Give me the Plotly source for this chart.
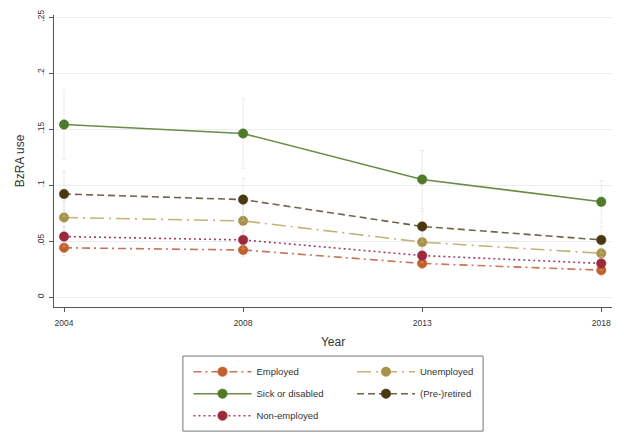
import plotly.graph_objects as go

years = ["2004", "2008", "2013", "2018"]

employed = [0.044, 0.042, 0.030, 0.024]
unemployed = [0.071, 0.068, 0.049, 0.039]
sick = [0.154, 0.146, 0.105, 0.085]
retired = [0.092, 0.087, 0.063, 0.051]
nonemployed = [0.054, 0.051, 0.037, 0.030]

# half-widths of the 95% CIs
employed_ci = [0.007, 0.006, 0.005, 0.005]
unemployed_ci = [0.015, 0.014, 0.011, 0.010]
sick_ci = [0.031, 0.031, 0.026, 0.019]
retired_ci = [0.020, 0.019, 0.014, 0.012]
nonemployed_ci = [0.009, 0.008, 0.006, 0.006]

y_ticks = [0, 0.05, 0.1, 0.15, 0.2, 0.25]
y_labels = ["0", ".05", ".1", ".15", ".2", ".25"]

series = [
    ("Employed", employed, employed_ci, "#c8735a", "#c0602c", "8px,4px,2px,4px", "legend"),
    ("Unemployed", unemployed, unemployed_ci, "#c4b27a", "#a8924a", "14px,5px,2px,5px", "legend2"),
    ("Sick or disabled", sick, sick_ci, "#6b8c47", "#4f7a2a", "solid", "legend"),
    ("(Pre-)retired", retired, retired_ci, "#6e6548", "#4a3810", "7px,4px", "legend2"),
    ("Non-employed", nonemployed, nonemployed_ci, "#a8405a", "#9c2a3c", "2px,3px", "legend"),
]

fig = go.Figure()
for i, (name, vals, ci, lcol, mcol, dash, leg) in enumerate(series):
    fig.add_trace(go.Scatter(
        x=years, y=vals, name=name, mode="lines+markers",
        line=dict(color=lcol, width=1.6, dash=dash),
        marker=dict(color=mcol, size=9.5, line=dict(color=mcol, width=0.5)),
        error_y=dict(type="data", array=ci, color="rgba(205,205,200,0.5)",
                     thickness=0.8, width=2),
        legend=leg, legendgroup=name, legendrank=i,
    ))

# page body adds an 8px margin, so the figure is 8px smaller each way
fig.update_layout(
    width=616, height=434,
    margin=dict(l=46, r=12, t=7, b=135),
    paper_bgcolor="white", plot_bgcolor="white",
    font=dict(family="Liberation Sans, Arial", size=10, color="#333333"),
    showlegend=True,
    legend=dict(x=0.241, y=-0.172, xanchor="left", yanchor="top",
                bgcolor="rgba(0,0,0,0)", itemwidth=58, tracegroupgap=3,
                font=dict(size=9.5, color="#333333")),
    legend2=dict(x=0.534, y=-0.172, xanchor="left", yanchor="top",
                 bgcolor="rgba(0,0,0,0)", itemwidth=58, tracegroupgap=3,
                 font=dict(size=9.5, color="#333333")),
    shapes=[dict(type="rect", xref="paper", yref="paper",
                 x0=0.231, x1=0.769, y0=-0.425, y1=-0.168,
                 line=dict(color="#777777", width=1), fillcolor="rgba(0,0,0,0)")],
)

fig.update_xaxes(
    type="category", range=[-0.056, 3.06], automargin=False,
    showline=True, linecolor="#555555", linewidth=1.2,
    ticks="outside", ticklen=4, tickcolor="#555555", ticklabelstandoff=4,
    showgrid=False, tickfont=dict(size=8.5),
    title=dict(text="Year", font=dict(size=12), standoff=10),
)
fig.update_yaxes(
    range=[-0.0089, 0.2518], automargin=False,
    tickvals=y_ticks, ticktext=y_labels, tickangle=-90,
    showline=True, linecolor="#555555", linewidth=1.2,
    ticks="outside", ticklen=4, tickcolor="#555555", ticklabelstandoff=2,
    showgrid=True, gridcolor="#e9edf0", gridwidth=1,
    zeroline=False, tickfont=dict(size=8.5),
    title=dict(text="BzRA use", font=dict(size=12), standoff=8),
)

fig.write_html("out.html")
